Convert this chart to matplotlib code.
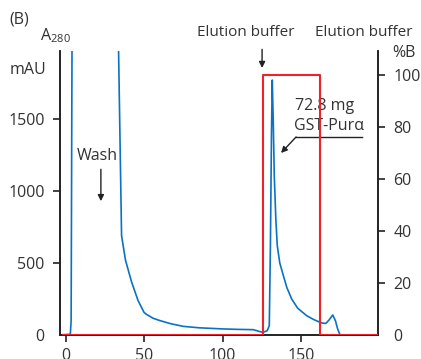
import matplotlib
matplotlib.use("Agg")
import matplotlib.pyplot as plt

plt.rcParams['font.family'] = ['Open Sans', 'DejaVu Sans']
plt.rcParams['mathtext.default'] = 'regular'

# A280 trace (ml, mAU)
volume_ml = [-2.0, 2.8, 3.3, 3.9, 33.4, 35.5, 38.0, 41.9, 46.0, 49.8, 51.0, 55.7,
             60.0, 67.0, 74.9, 85.0, 100.4, 110.0, 119.6, 123.9, 126.0, 128.5,
             129.8, 130.5, 131.2, 131.7, 132.3, 133.0, 134.0, 134.9, 136.5, 138.8,
             141.0, 144.1, 148.0, 153.7, 158.0, 162.2, 164.0, 166.0, 168.0, 170.3,
             172.0, 173.5, 175.0, 199.0]
a280_mau = [2, 5, 100, 2100, 2100, 690, 520, 368, 240, 158, 146, 116,
            100, 78, 60, 50, 42, 39, 37, 23, 19, 30,
            65, 600, 1400, 1770, 1500, 1100, 800, 620, 500, 412,
            330, 250, 185, 134, 108, 88, 82, 81, 105, 139,
            100, 40, 0, 0]

# %B gradient (step)
grad_ml = [-2.0, 125.8, 125.8, 162.2, 162.2, 199.0]
grad_pct = [0, 0, 100, 100, 0, 0]

left_ticks = [0, 500, 1000, 1500]
right_ticks = [0, 20, 40, 60, 80, 100]
x_ticks = [0, 50, 100, 150]

text_color = '#333333'
blue = '#0a72c4'
red = '#ee2229'

fig = plt.figure(figsize=(4.21, 3.59), dpi=100)
ax = fig.add_axes([60 / 421, 1 - 335 / 359, 318 / 421, 284 / 359])
ax2 = ax.twinx()

ax.plot(volume_ml, a280_mau, color=blue, lw=1.2, zorder=3)
ax2.plot(grad_ml, grad_pct, color=red, lw=1.5, zorder=4)

ax.set_xlim(-3.8, 199.2)
ax.set_ylim(0, 1972)
ax2.set_ylim(0, 109.1)

ax.set_xticks(x_ticks)
ax.set_yticks(left_ticks)
ax2.set_yticks(right_ticks)

for a in (ax, ax2):
    a.spines['top'].set_visible(False)
    for s in a.spines.values():
        s.set_linewidth(1.2)
        s.set_color('#222222')
    a.tick_params(length=5, width=1.2, color='#222222', labelsize=11.5,
                  labelcolor=text_color, pad=6)
ax.tick_params(axis='x', pad=4)
ax.yaxis.get_major_ticks()[0].tick1line.set_visible(False)
ax2.yaxis.get_major_ticks()[0].tick2line.set_visible(False)

ax.patch.set_visible(False)
ax2.set_zorder(ax.get_zorder() + 1)

# labels
fig.text(9 / 421, 1 - 19 / 359, '(B)', fontsize=11.5, color=text_color, va='center')
fig.text(40 / 421, 1 - 36 / 359, 'A$_{280}$', fontsize=11.5, color=text_color, va='center')
fig.text(46 / 421, 1 - 70 / 359, 'mAU', fontsize=11.5, color=text_color, va='center', ha='right')
fig.text(392 / 421, 1 - 53 / 359, '%B', fontsize=11.5, color=text_color, va='center')
ax.text(194.5, -1, 'ml', transform=ax.get_xaxis_transform(), fontsize=11.5,
        color=text_color, ha='center', va='top')

# annotations
ax2.annotate('', xy=(125.2, 101.5), xytext=(125.2, 110.8),
             arrowprops=dict(arrowstyle='-|>', color='#222222', lw=1, mutation_scale=9),
             annotation_clip=False)
ax2.text(115, 116.3, 'Elution buffer', fontsize=11, color=text_color,
         ha='center', va='center', clip_on=False)
ax2.text(190.3, 116.3, 'Elution buffer', fontsize=11, color=text_color,
         ha='center', va='center', clip_on=False)

ax.text(19.8, 1243, 'Wash', fontsize=11.5, color=text_color, ha='center', va='center')
ax.annotate('', xy=(22.3, 910), xytext=(22.3, 1170),
            arrowprops=dict(arrowstyle='-|>', color='#222222', lw=1, mutation_scale=9))

ax.text(146.2, 1590, '72.8 mg', fontsize=11.5, color=text_color, ha='left', va='center')
ax.text(145.8, 1451, 'GST-Pur\u03b1', fontsize=11.5, color=text_color, ha='left', va='center')
ax.plot([146.9, 189.0], [1375, 1375], color='#222222', lw=1)
ax.annotate('', xy=(137.3, 1264), xytext=(146.9, 1375),
            arrowprops=dict(arrowstyle='-|>', color='#222222', lw=1, mutation_scale=9,
                            shrinkA=0, shrinkB=0))

fig.savefig('out.png', dpi=100)
